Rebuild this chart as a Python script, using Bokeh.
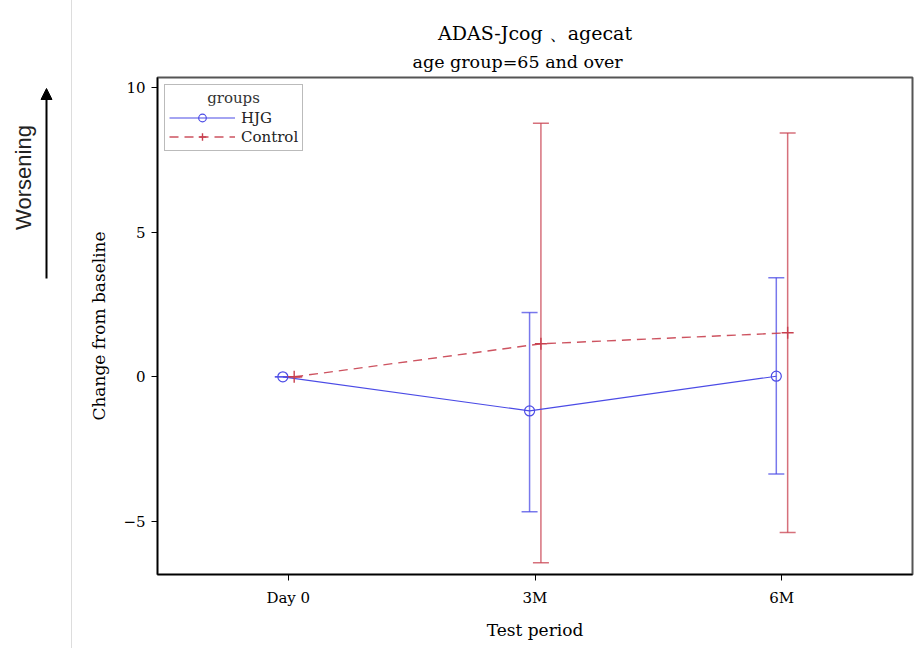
import math
from bokeh.plotting import figure
from bokeh.layouts import row
from bokeh.models import (ColumnDataSource, Range1d, FixedTicker, Whisker, TeeHead,
                          Legend, LegendItem, Title, Arrow, NormalHead)
from bokeh.transform import dodge
from bokeh.core.properties import value
from bokeh.embed import file_html
from bokeh.resources import INLINE

# ---- data ----
periods = ["Day 0", "3M", "6M"]
hjg_mean = [0.0, -1.18, 0.02]
hjg_lower = [0.0, -4.66, -3.36]
hjg_upper = [0.0, 2.22, 3.42]
ctrl_mean = [0.0, 1.14, 1.52]
ctrl_lower = [0.0, -6.42, -5.38]
ctrl_upper = [0.0, 8.76, 8.42]
y_ticks = [-5, 0, 5, 10]

SERIF = "DejaVu Serif"
BLUE = "#4b4be6"
RED = "#c8404f"
H = 648
TOP, BOTTOM = 77, 74          # frame borders shared by both panels
FH = H - TOP - BOTTOM         # frame height

xs = list(range(len(periods)))
hjg_src = ColumnDataSource(dict(x=xs, y=hjg_mean, lower=hjg_lower, upper=hjg_upper))
ctrl_src = ColumnDataSource(dict(x=xs, y=ctrl_mean, lower=ctrl_lower, upper=ctrl_upper))

# ---- left strip: "Worsening" with arrow (pixel-like coordinates, y measured from frame bottom) ----
side = figure(width=72, height=H, x_range=Range1d(0, 72), y_range=Range1d(0, FH),
              output_backend="svg", toolbar_location=None,
              min_border_left=0, min_border_right=0, min_border_top=TOP, min_border_bottom=BOTTOM)
side.axis.visible = False
side.grid.visible = False
side.outline_line_color = None
side.styles = {"border-right": "1px solid #dddddd"}
side.text(x=[23], y=[H - BOTTOM - 177], text=["Worsening"], angle=math.pi / 2,
          text_align="center", text_baseline="middle",
          text_font=value("Liberation Sans"), text_font_size="22px", text_color="#222222")
side.add_layout(Arrow(end=NormalHead(size=11, fill_color="black", line_color="black"),
                      x_start=46, y_start=H - BOTTOM - 278, x_end=46, y_end=H - BOTTOM - 88,
                      line_width=2, line_color="black"))

# ---- main chart ----
p = figure(width=844, height=H, x_range=Range1d(-0.53, 2.53), y_range=Range1d(-6.83, 10.34),
           output_backend="svg", toolbar_location=None,
           min_border_left=85, min_border_right=4, min_border_top=TOP, min_border_bottom=BOTTOM)
p.grid.visible = False
p.outline_line_color = "#555555"
p.outline_line_width = 2

p.add_layout(Title(text="age group=65 and over", align="left", text_font=SERIF,
                   text_font_size="17.5px", text_font_style="normal", text_color="black",
                   standoff=12, offset=255), "above")
p.add_layout(Title(text="ADAS-Jcog 、agecat", align="center", text_font=SERIF,
                   text_font_size="19px", text_font_style="normal", text_color="black",
                   standoff=0), "above")

p.xaxis.ticker = FixedTicker(ticks=xs)
p.xaxis.major_label_overrides = {i: s for i, s in enumerate(periods)}
p.yaxis.ticker = FixedTicker(ticks=y_ticks)
for ax in (p.xaxis, p.yaxis):
    ax.axis_line_color = "black"
    ax.axis_line_width = 1.5
    ax.major_tick_line_color = "black"
    ax.major_tick_out = 6
    ax.major_tick_in = 0
    ax.minor_tick_line_color = None
    ax.major_label_text_font = SERIF
    ax.major_label_text_font_size = "15px"
    ax.major_label_text_color = "black"
    ax.axis_label_text_font = SERIF
    ax.axis_label_text_font_size = "17px"
    ax.axis_label_text_font_style = "normal"
    ax.axis_label_text_color = "black"
p.xaxis.axis_label = "Test period"
p.yaxis.axis_label = "Change from baseline"
p.xaxis.major_label_standoff = 8
p.xaxis.axis_label_standoff = 10
p.yaxis.major_label_standoff = 6
p.yaxis.axis_label_standoff = 11

hx = dodge("x", -0.022, range=p.x_range)
cx = dodge("x", 0.024, range=p.x_range)

p.add_layout(Whisker(base=hx, upper="upper", lower="lower", source=hjg_src,
                     line_color=BLUE, line_alpha=0.75, line_width=1.5,
                     upper_head=TeeHead(size=16, line_color=BLUE, line_alpha=0.75, line_width=1.5),
                     lower_head=TeeHead(size=16, line_color=BLUE, line_alpha=0.75, line_width=1.5)))
p.add_layout(Whisker(base=cx, upper="upper", lower="lower", source=ctrl_src,
                     line_color=RED, line_alpha=0.75, line_width=1.5,
                     upper_head=TeeHead(size=16, line_color=RED, line_alpha=0.75, line_width=1.5),
                     lower_head=TeeHead(size=16, line_color=RED, line_alpha=0.75, line_width=1.5)))

hl = p.line(x=hx, y="y", source=hjg_src, line_color=BLUE, line_width=1.2)
hm = p.scatter(x=hx, y="y", source=hjg_src, marker="circle", size=10,
               fill_color=None, line_color=BLUE, line_width=1.2)
cl = p.line(x=cx, y="y", source=ctrl_src, line_color=RED, line_width=1.4,
            line_dash="9 6", line_alpha=0.9)
cm = p.scatter(x=cx, y="y", source=ctrl_src, marker="cross", size=12,
               line_color=RED, line_width=1.4)

legend = Legend(items=[LegendItem(label="HJG", renderers=[hl, hm]),
                       LegendItem(label="Control", renderers=[cl, cm])],
                location="top_left", title="        groups",
                title_text_font=SERIF, title_text_font_size="15px",
                title_text_font_style="normal", title_text_color="#333333",
                title_standoff=1,
                label_text_font=SERIF, label_text_font_size="15px", label_text_color="#222222",
                glyph_width=66, glyph_height=19, label_height=19, label_standoff=6,
                spacing=0, padding=4, margin=7,
                border_line_color="#777777", border_line_width=1.5,
                background_fill_alpha=1.0)
p.add_layout(legend)

layout = row(side, p)
open("out.html", "w").write(file_html(layout, INLINE))
